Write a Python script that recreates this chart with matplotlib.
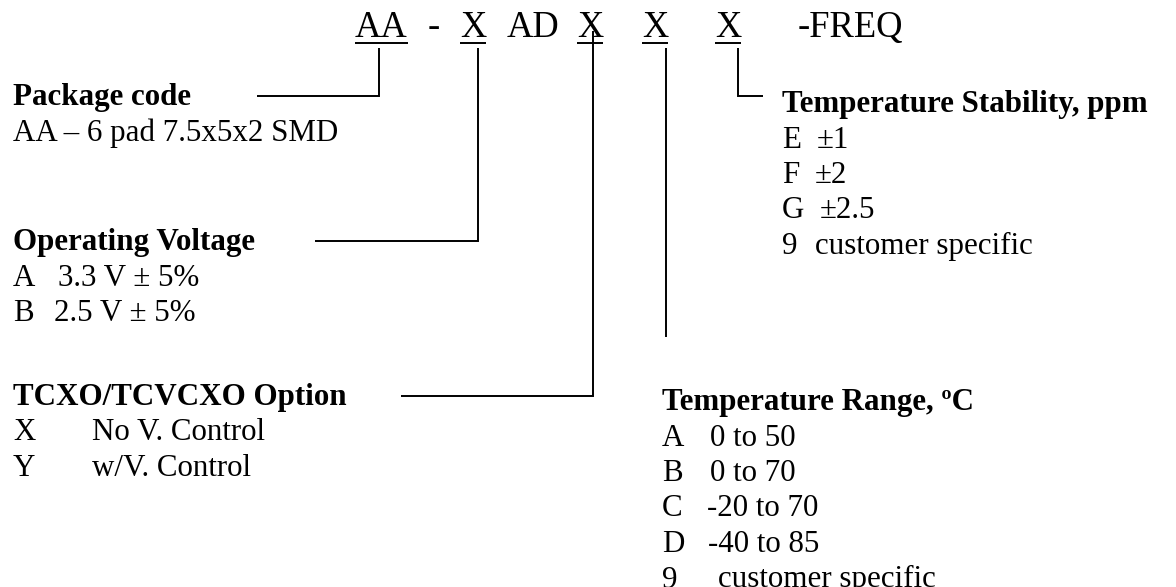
import matplotlib
matplotlib.use("Agg")
from matplotlib import pyplot as plt

# part number string, each piece and whether it is underlined
title_parts = ["AA", "-", "X", "AD", "X", "X", "X", "-FREQ"]
title_under = [True, False, True, False, True, True, True, False]

# option blocks
package_head = "Package code"
package_items = ["AA \u2013 6 pad 7.5x5x2 SMD"]

voltage_head = "Operating Voltage"
voltage_codes = ["A", "B"]
voltage_desc = ["3.3 V \u00b1 5%", "2.5 V \u00b1 5%"]

option_head = "TCXO/TCVCXO Option"
option_codes = ["X", "Y"]
option_desc = ["No V. Control", "w/V. Control"]

range_head = "Temperature Range, \u00baC"
range_codes = ["A", "B", "C", "D", "9"]
range_desc = ["0 to 50", "0 to 70", "-20 to 70", "-40 to 85", "customer specific"]

stab_head = "Temperature Stability, ppm"
stab_codes = ["E", "F", "G", "9"]
stab_desc = ["\u00b11", "\u00b12", "\u00b12.5", "customer specific"]

# ---- layout (pixels, y down) ----
W, H = 1176, 587
font = "Liberation Serif"
fs_title = 26.3
fs_body = 22.3
lw = 1.4
step = 35.5

fig = plt.figure(figsize=(W / 100, H / 100), dpi=100)
ax = fig.add_axes([0, 0, 1, 1])
ax.set_xlim(0, W)
ax.set_ylim(H, 0)
ax.axis("off")

title_x = [355, 428, 460, 507, 577, 642, 715, 798]
title_base = 37
under_y = 43
for txt, x, u in zip(title_parts, title_x, title_under):
    t = ax.text(x, title_base, txt, fontsize=fs_title, family=font, va="baseline", ha="left")
    if u:
        fig.canvas.draw()
        bb = t.get_window_extent()
        x0, _ = ax.transData.inverted().transform((bb.x0, 0))
        x1, _ = ax.transData.inverted().transform((bb.x1, 0))
        ax.plot([x0, x1], [under_y, under_y], color="black", lw=lw, solid_capstyle="butt")

# connectors
def conn(pts):
    xs = [p[0] for p in pts]
    ys = [p[1] for p in pts]
    ax.plot(xs, ys, color="black", lw=lw, solid_capstyle="butt", solid_joinstyle="miter")

conn([(379, 48), (379, 96), (257, 96)])
conn([(478, 48), (478, 241), (315, 241)])
conn([(593, 31), (593, 396), (401, 396)])
conn([(666, 48), (666, 337)])
conn([(738, 48), (738, 96), (763, 96)])


def block(x, y, head, codes, descs, desc_x):
    ax.text(x, y, head, fontsize=fs_body, family=font, weight="bold", va="baseline")
    for i, c in enumerate(codes):
        yy = y + step * (i + 1)
        if descs is None:
            ax.text(x, yy, c, fontsize=fs_body, family=font, va="baseline")
        else:
            ax.text(x, yy, c, fontsize=fs_body, family=font, va="baseline")
            ax.text(desc_x[i], yy, descs[i], fontsize=fs_body, family=font, va="baseline")


block(13, 105, package_head, package_items, None, None)
block(13, 250, voltage_head, voltage_codes, voltage_desc, [58, 54])
block(13, 405, option_head, option_codes, option_desc, [92, 92])
block(662, 410, range_head, range_codes, range_desc, [710, 710, 707, 708, 718])
block(782, 112, stab_head, stab_codes, stab_desc, [817, 815, 820, 815])

fig.savefig("out.png", dpi=100)
